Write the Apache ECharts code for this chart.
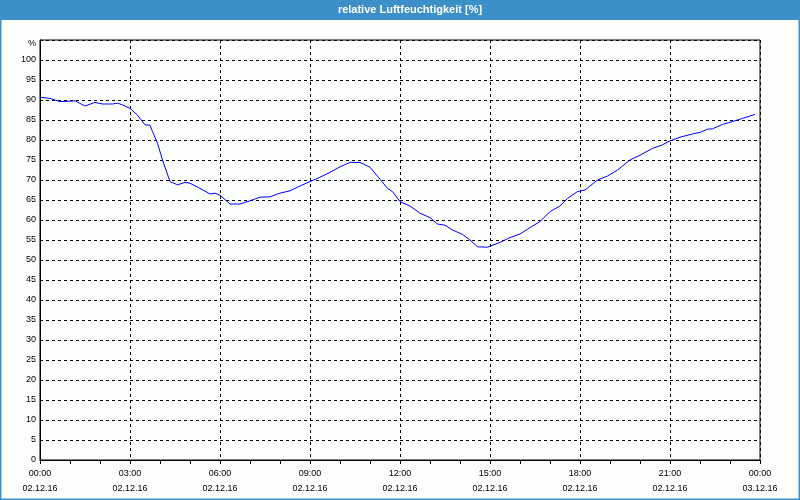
<!DOCTYPE html>
<html>
<head>
<meta charset="utf-8">
<script src="https://cdn.jsdelivr.net/npm/echarts@6/dist/echarts.min.js"></script>
<style>html,body{margin:0;padding:0;background:#fcfefc}#c{width:800px;height:500px}</style>
</head>
<body>
<div id="c"></div>
<script>
const titleText = 'relative Luftfeuchtigkeit [%]';
const times = ['00:00','00:20','00:40','01:00','01:10','01:30','01:50','02:05','02:25','02:35','02:45','03:00','03:15','03:30','03:40','03:45','03:55','04:05','04:20','04:35','04:50','05:00','05:20','05:40','05:50','06:00','06:20','06:40','07:00','07:20','07:40','07:55','08:00','08:20','08:40','09:00','09:20','09:40','10:00','10:20','10:40','11:00','11:20','11:35','11:45','12:00','12:20','12:40','13:00','13:15','13:30','13:45','14:05','14:20','14:35','14:55','15:20','15:40','16:00','16:20','16:40','17:00','17:20','17:35','17:55','18:10','18:35','18:55','19:15','19:40','20:00','20:25','20:45','21:00','21:20','21:45','22:00','22:15','22:25','22:45','23:05','23:25','23:50'];
const humidity = [90.7,90.4,89.6,89.7,89.8,88.5,89.4,89.0,89.0,89.2,88.8,87.9,86.2,83.8,83.7,82.1,79.2,75.0,69.6,68.8,69.4,69.2,67.9,66.5,66.7,66.2,64.0,64.0,64.8,65.7,65.8,66.5,66.7,67.3,68.5,69.6,70.7,71.9,73.3,74.4,74.4,73.2,70.2,67.9,67.1,64.6,63.5,61.7,60.6,59.0,58.7,57.5,56.4,55.0,53.3,53.2,54.4,55.6,56.5,58.1,59.6,62.1,63.5,65.4,67.1,67.5,70.0,71.0,72.5,75.0,76.2,77.9,78.8,79.8,80.7,81.5,81.9,82.7,82.8,83.9,84.6,85.4,86.4];
const dateLabels = ['02.12.16','03.12.16'];
const unitLabel = '%';

function toMin(s){const p=s.split(':');return (+p[0])*60+(+p[1]);}
const seriesData = times.map((t,i)=>[toMin(t),humidity[i]]);
const font = 'Liberation Sans, Arial, sans-serif';

const chart = echarts.init(document.getElementById('c'));
chart.setOption({
  backgroundColor:'#fcfefc',
  animation:false,
  grid:{left:40,right:40,top:40,bottom:40,show:true,borderColor:'#000',borderWidth:1},
  graphic:[
    {type:'rect',shape:{x:0,y:0,width:800,height:20},style:{fill:'#3c8fc7'},silent:true},
    {type:'rect',shape:{x:0.5,y:0.5,width:799,height:499},style:{fill:'none',stroke:'#3c8fc7',lineWidth:2},silent:true},
    {type:'text',x:410,y:10,style:{text:titleText,fill:'#fff',font:'bold 11px '+font,textAlign:'center',textVerticalAlign:'middle'},silent:true}
  ],
  xAxis:{
    type:'value',min:0,max:1440,interval:180,
    axisLine:{show:true,lineStyle:{color:'#000',width:1}},
    axisTick:{show:true,length:4,lineStyle:{color:'#000'}},
    minorTick:{show:true,splitNumber:3,length:4,lineStyle:{color:'#000'}},
    splitLine:{show:true,lineStyle:{color:'#000',type:[3,3],width:1}},
    axisLabel:{
      color:'#000',fontSize:9,fontFamily:font,lineHeight:15,margin:6,
      formatter:function(v){
        if(v>=1440) return '00:00\n'+dateLabels[1];
        const h=Math.round(v/60);
        return (h<10?'0':'')+h+':00\n'+dateLabels[0];
      }
    }
  },
  yAxis:{
    type:'value',min:0,max:105,interval:5,
    axisLine:{show:true,lineStyle:{color:'#000',width:1}},
    axisTick:{show:false},
    splitLine:{show:true,lineStyle:{color:'#000',type:[3,3],width:1}},
    axisLabel:{
      color:'#000',fontSize:9,fontFamily:font,margin:4,
      formatter:function(v){return v>=105?'{u|'+unitLabel+'}':String(v);},
      rich:{u:{color:'#000',fontSize:9,fontFamily:font,padding:[8,0,0,0]}}
    }
  },
  series:[{
    type:'line',data:seriesData,showSymbol:false,symbol:'none',smooth:false,
    lineStyle:{color:'#0000ff',width:1}
  }]
});
</script>
</body>
</html>
